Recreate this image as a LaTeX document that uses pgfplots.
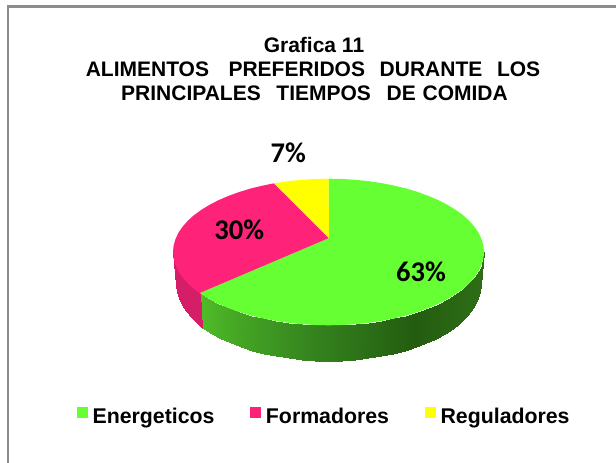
\documentclass[border=0pt]{standalone}
\usepackage{fontspec}
\setmainfont{Liberation Sans}
\newfontfamily\calibri{Carlito}
\usepackage{pgfplots}
\pgfplotsset{compat=1.18}
\definecolor{cgreen}{RGB}{102,255,51}
\definecolor{cred}{RGB}{255,34,121}
\definecolor{cyellow}{RGB}{255,255,0}
\definecolor{cframe}{RGB}{140,140,140}
\pgfplotsset{
  colormap={greenside}{rgb255(200)=(88,205,42) rgb255(260)=(68,165,36) rgb255(330)=(52,130,30) rgb255(420)=(36,92,16) rgb255(484)=(46,110,22)},
  colormap={redside}{rgb255(170)=(214,30,104) rgb255(205)=(204,26,96)},
}
\begin{document}
\begin{tikzpicture}
\begin{axis}[
  width=616pt, height=463pt, scale only axis,
  xmin=0, xmax=616, ymin=0, ymax=463, y dir=reverse,
  axis lines=none,
  legend columns=-1,
  legend style={draw=none, fill=none, at={(0.5265,0.1012)}, anchor=center,
    font=\bfseries\fontsize{21.3}{25}\selectfont,
    /tikz/every even column/.append style={column sep=34pt}},
  legend image code/.code={\fill[#1] (0pt,-1.5pt) rectangle (11pt,9.5pt); \path (13.5pt,0pt);},
]
% page background, keeps the full 616x463 extent
\addplot[fill=white, draw=none, forget plot] coordinates {(0,0) (616,0) (616,463) (0,463) (0,0)};
% chart frame
\addplot[cframe, line width=2.2pt, forget plot] coordinates {(8,463) (8,6.5) (616,6.5)};

% side wall, green part
\addplot[surf, shader=interp, colormap name=greenside, mesh/rows=2, point meta=x, forget plot] table {
x y
484.0 252.0
483.4 258.4
481.6 264.7
478.7 271.0
474.6 277.1
469.4 283.0
463.2 288.7
455.9 294.0
447.6 299.1
438.5 303.8
428.5 308.1
417.7 312.0
406.3 315.5
394.2 318.4
381.7 320.9
368.7 322.8
355.5 324.2
342.1 325.0
328.5 325.3
314.9 325.0
301.5 324.2
288.3 322.8
275.3 320.9
262.8 318.4
250.7 315.5
239.3 312.0
228.5 308.1
218.5 303.8
209.4 299.1
201.1 294.0
199.7 293.0
480.5 285.0
479.9 291.6
478.2 298.2
475.3 304.7
471.3 311.0
466.3 317.1
460.1 323.0
453.0 328.6
444.9 333.9
436.0 338.7
426.2 343.2
415.7 347.3
404.5 350.8
392.7 353.9
380.5 356.4
367.8 358.4
354.9 359.8
341.8 360.7
328.5 361.0
315.2 360.7
302.1 359.8
289.2 358.4
276.5 356.4
264.3 353.9
252.5 350.8
241.3 347.3
230.8 343.2
221.0 338.7
212.1 333.9
204.0 328.6
202.5 327.5
};
% side wall, red part
\addplot[surf, shader=interp, colormap name=redside, mesh/rows=2, point meta=x, forget plot] table {
x y
199.7 293.0
193.8 288.7
187.6 283.0
182.4 277.1
178.3 271.0
175.4 264.7
173.6 258.4
173.0 252.0
202.5 327.5
196.9 323.0
190.7 317.1
185.7 311.0
181.7 304.7
178.8 298.2
177.1 291.6
176.5 285.0
};

% top faces
\addplot[fill=cgreen, draw=none] coordinates {
(329,238) (328.5,178.7) (342.1,179.0) (355.5,179.8) (368.7,181.2) (381.7,183.1)
(394.2,185.6) (406.3,188.5) (417.7,192.0) (428.5,195.9) (438.5,200.2) (447.6,204.9)
(455.9,210.0) (463.2,215.3) (469.4,221.0) (474.6,226.9) (478.7,233.0) (481.6,239.3)
(483.4,245.6) (484.0,252.0) (483.4,258.4) (481.6,264.7) (478.7,271.0) (474.6,277.1)
(469.4,283.0) (463.2,288.7) (455.9,294.0) (447.6,299.1) (438.5,303.8) (428.5,308.1)
(417.7,312.0) (406.3,315.5) (394.2,318.4) (381.7,320.9) (368.7,322.8) (355.5,324.2)
(342.1,325.0) (328.5,325.3) (314.9,325.0) (301.5,324.2) (288.3,322.8) (275.3,320.9)
(262.8,318.4) (250.7,315.5) (239.3,312.0) (228.5,308.1) (218.5,303.8) (209.4,299.1)
(201.1,294.0) (199.7,293.0) (329,238)
};
\addlegendentry{Energeticos}
\addplot[fill=cred, draw=none] coordinates {
(329,238) (199.7,293.0) (193.8,288.7) (187.6,283.0) (182.4,277.1) (178.3,271.0)
(175.4,264.7) (173.6,258.4) (173.0,252.0) (173.6,245.6) (175.4,239.3) (178.3,233.0)
(182.4,226.9) (187.6,221.0) (193.8,215.3) (201.1,210.0) (209.4,204.9) (218.5,200.2)
(228.5,195.9) (239.3,192.0) (250.7,188.5) (262.8,185.6) (274.0,183.3) (329,238)
};
\addlegendentry{Formadores}
\addplot[fill=cyellow, draw=none] coordinates {
(329,238) (274.0,183.3) (275.3,183.1) (288.3,181.2) (301.5,179.8) (314.9,179.0)
(328.5,178.7) (329,238)
};
\addlegendentry{Reguladores}

% title
\node[font=\bfseries\fontsize{21}{24}\selectfont, anchor=base] at (axis cs:314,52.7) {Grafica 11};
\node[font=\bfseries\fontsize{21}{24}\selectfont, anchor=base] at (axis cs:313,76.7) {ALIMENTOS\ \ \ \hspace{2pt}PREFERIDOS\ \ \hspace{3pt}DURANTE\ \ \hspace{3pt}LOS};
\node[font=\bfseries\fontsize{21}{24}\selectfont, anchor=base] at (axis cs:314.5,100.7) {PRINCIPALES\ \ \hspace{4pt}TIEMPOS\ \ \hspace{4pt}DE\hspace{1pt} COMIDA};
% data labels
\node[font=\calibri\bfseries\fontsize{28.5}{32}\selectfont, anchor=base] at (axis cs:288.2,162.3) {7\%};
\node[font=\calibri\bfseries\fontsize{28.5}{32}\selectfont, anchor=base] at (axis cs:239.2,239) {30\%};
\node[font=\calibri\bfseries\fontsize{28.5}{32}\selectfont, anchor=base] at (axis cs:421,281) {63\%};
\end{axis}
\end{tikzpicture}
\end{document}
